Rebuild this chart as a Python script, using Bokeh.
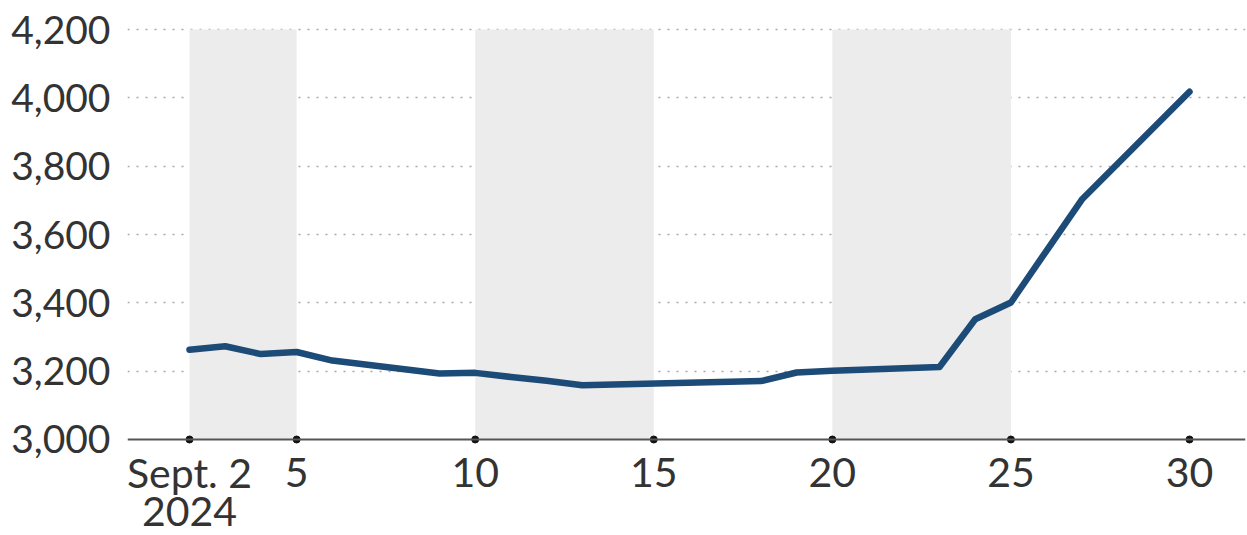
from bokeh.plotting import figure
from bokeh.models import FixedTicker, Span, NumeralTickFormatter, Range1d
from bokeh.core.properties import value
from bokeh.embed import file_html
from bokeh.resources import INLINE

# Data: CSI-300-style index, September 2024 (trading days)
days = [2, 3, 4, 5, 6, 9, 10, 11, 12, 13, 18, 19, 20, 23, 24, 25, 26, 27, 30]
values = [3263, 3273, 3250, 3256, 3231, 3193, 3195, 3183, 3172, 3159,
          3171, 3196, 3201, 3212, 3352, 3401, 3553, 3704, 4018]

band_starts = [2, 10, 20]
band_ends = [5, 15, 25]

x_ticks = [2, 5, 10, 15, 20, 25, 30]
x_tick_labels = ["Sept. 2", "5", "10", "15", "20", "25", "30"]
year_label = "2024"
y_ticks = [3000, 3200, 3400, 3600, 3800, 4000, 4200]

FONT = "Lato"
TXT = "#333333"
Y0 = y_ticks[0]

# frame spans down to the bottom of the canvas; the area below the baseline
# holds the x tick labels (drawn as text glyphs)
p = figure(width=1247, height=535, output_backend="svg", toolbar_location=None,
           x_range=Range1d(0.264, 31.568), y_range=Range1d(2719, 4205.9),
           min_border_left=127, min_border_right=2, min_border_top=27,
           min_border_bottom=0)
p.outline_line_color = None
p.background_fill_color = "white"
p.xaxis.visible = False

# shaded bands
p.quad(left=band_starts, right=band_ends, bottom=[Y0] * len(band_starts),
       top=[y_ticks[-1]] * len(band_starts), fill_color="#ececec", line_color=None)

# grid
p.xgrid.grid_line_color = None
p.ygrid.ticker = FixedTicker(ticks=y_ticks[1:])
p.ygrid.grid_line_color = "#a8a8a8"
p.ygrid.grid_line_dash = "2 7"
p.ygrid.grid_line_width = 1.5
p.ygrid.level = "underlay"

# baseline
p.add_layout(Span(location=Y0, dimension="width", line_color="#555555", line_width=2))

# line
p.line(days, values, line_color="#1c4b78", line_width=6.5, line_join="round", line_cap="round")

# tick dots on baseline
p.scatter(x_ticks, [Y0] * len(x_ticks), size=7, color="#111111")

# x tick labels
p.text(x=x_ticks, y=[Y0 - 97] * len(x_ticks), text=x_tick_labels,
       text_align="center", text_baseline="alphabetic",
       text_font=value(FONT), text_font_size="41px", text_color=TXT)
p.text(x=[x_ticks[0]], y=[Y0 - 211], text=[year_label],
       text_align="center", text_baseline="alphabetic",
       text_font=value(FONT), text_font_size="41px", text_color=TXT)

ya = p.yaxis[0]
ya.ticker = FixedTicker(ticks=y_ticks)
ya.formatter = NumeralTickFormatter(format="0,0")
ya.axis_line_color = None
ya.major_tick_line_color = None
ya.minor_tick_line_color = None
ya.major_tick_out = 0
ya.major_tick_in = 0
ya.major_label_text_font = FONT
ya.major_label_text_font_size = "39px"
ya.major_label_text_color = TXT
ya.major_label_standoff = 17

open("out.html", "w").write(file_html(p, INLINE))
